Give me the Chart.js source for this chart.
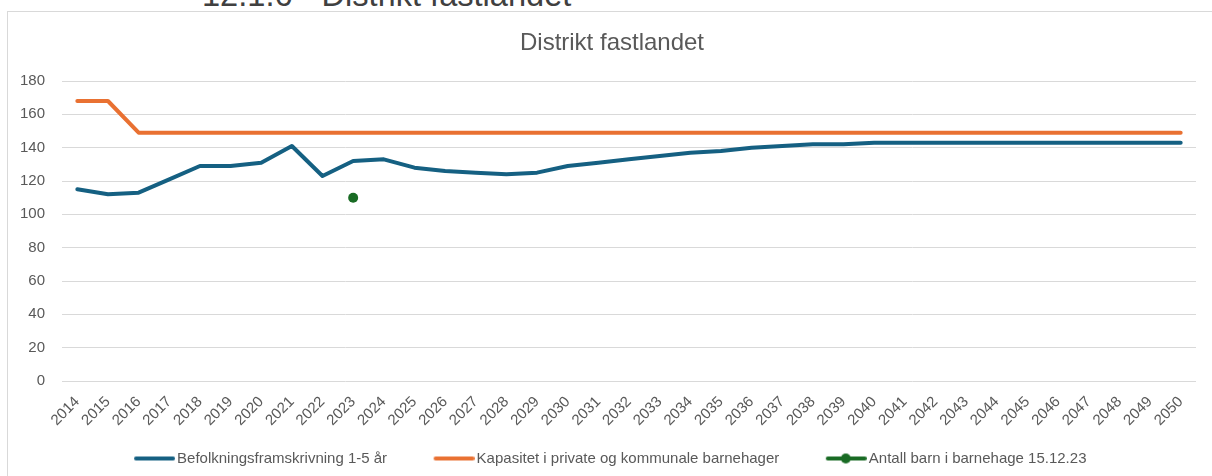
<!DOCTYPE html>
<html>
<head>
<meta charset="utf-8">
<script src="https://cdn.jsdelivr.net/npm/chart.js@4/dist/chart.umd.min.js"></script>
<style>
  html, body { margin: 0; padding: 0; background: #ffffff; overflow: hidden; }
  #wrap { position: relative; width: 1212px; height: 476px; overflow: hidden; }
  #heading { position: absolute; left: 202px; top: -21px; font-family: 'Liberation Sans', Arial, sans-serif;
             font-size: 32.6px; line-height: 32px; color: #404040; white-space: nowrap; }
  #frame { position: absolute; left: 7px; top: 11px; width: 1220px; height: 480px;
           border-left: 1px solid #d9d9d9; border-top: 1px solid #d9d9d9; box-sizing: border-box; }
  canvas { position: absolute; left: 0; top: 0; }
</style>
</head>
<body>
<div id="wrap">
  <div id="heading">12.1.6 - Distrikt fastlandet</div>
  <div id="frame"></div>
  <canvas id="c" width="1212" height="476"></canvas>
</div>
<script>
const chartTitle = 'Distrikt fastlandet';
const years = ['2014','2015','2016','2017','2018','2019','2020','2021','2022','2023','2024','2025','2026','2027','2028','2029','2030','2031','2032','2033','2034','2035','2036','2037','2038','2039','2040','2041','2042','2043','2044','2045','2046','2047','2048','2049','2050'];
const seriesNames = ['Befolkningsframskrivning 1-5 år', 'Kapasitet i private og kommunale barnehager', 'Antall barn i barnehage 15.12.23'];
const befolkning = [115,112,113,121,129,129,131,141,123,132,133,128,126,125,124,125,129,131,133,135,137,138,140,141,142,142,143,143,143,143,143,143,143,143,143,143,143];
const kapasitet = [168,168,149,149,149,149,149,149,149,149,149,149,149,149,149,149,149,149,149,149,149,149,149,149,149,149,149,149,149,149,149,149,149,149,149,149,149];
const antallBarn = [null,null,null,null,null,null,null,null,null,110,null,null,null,null,null,null,null,null,null,null,null,null,null,null,null,null,null,null,null,null,null,null,null,null,null,null,null];
const yTicks = [0,20,40,60,80,100,120,140,160,180];

const colBlue = '#156082', colOrange = '#E97132', colGreen = '#196B24';
const FONT = "'Liberation Sans', Arial, sans-serif";
const textCol = '#595959';

const BW = 72; // legend box width
function legendImg(color, withDot) {
  const W = BW + 11, H = 12;
  const cv = document.createElement('canvas');
  cv.width = W; cv.height = H;
  const g = cv.getContext('2d');
  g.strokeStyle = color; g.lineWidth = 4; g.lineCap = 'round';
  g.beginPath(); g.moveTo(W - 40 + 1, H / 2); g.lineTo(W - 2, H / 2); g.stroke();
  if (withDot) {
    g.fillStyle = color; g.beginPath(); g.arc(W - 21, H / 2, 5, 0, Math.PI * 2); g.fill();
  }
  return cv;
}
const legendImgs = [legendImg(colBlue, false), legendImg(colOrange, false), legendImg(colGreen, true)];

const shiftBlocks = {
  id: 'shiftBlocks',
  afterLayout(chart) {
    if (chart.titleBlock) { chart.titleBlock.left += 14; chart.titleBlock.right += 14; }
    if (chart.legend) { chart.legend.left -= 6; chart.legend.right -= 6; }
  }
};

new Chart(document.getElementById('c'), {
  type: 'line',
  data: {
    labels: years,
    datasets: [
      { label: seriesNames[0], data: befolkning, borderColor: colBlue, backgroundColor: colBlue,
        borderWidth: 4, pointRadius: 0, tension: 0, borderJoinStyle: 'round', borderCapStyle: 'round' },
      { label: seriesNames[1], data: kapasitet, borderColor: colOrange, backgroundColor: colOrange,
        borderWidth: 4, pointRadius: 0, tension: 0, borderJoinStyle: 'round', borderCapStyle: 'round' },
      { label: seriesNames[2], data: antallBarn, borderColor: colGreen, backgroundColor: colGreen,
        showLine: false, pointRadius: 5, pointBorderWidth: 0, pointHoverRadius: 5 }
    ]
  },
  plugins: [shiftBlocks],
  options: {
    responsive: false,
    animation: false,
    layout: { padding: { left: 0, right: 16, top: 0, bottom: 0 } },
    plugins: {
      tooltip: { enabled: false },
      title: { display: true, text: chartTitle, color: textCol,
               font: { family: FONT, size: 24, weight: 'normal', lineHeight: 1.2 },
               padding: { top: 28.6, bottom: 23.6 } },
      legend: {
        position: 'bottom',
        labels: {
          font: { family: FONT, size: 15 }, color: textCol, padding: 10,
          usePointStyle: true, pointStyleWidth: BW, boxHeight: 12,
          generateLabels: (chart) => chart.data.datasets.map((ds, i) => ({
            text: ds.label, pointStyle: legendImgs[i], fillStyle: ds.borderColor,
            strokeStyle: ds.borderColor, lineWidth: 0, hidden: false, datasetIndex: i, fontColor: textCol
          }))
        }
      }
    },
    scales: {
      x: {
        offset: true,
        grid: { display: false, drawTicks: false },
        border: { display: false },
        ticks: { autoSkip: false, maxRotation: 45, minRotation: 45, color: textCol,
                 font: { family: FONT, size: 15 }, padding: 12 },
        afterFit: (s) => { s.height = 60; }
      },
      y: {
        min: 0, max: 180,
        afterBuildTicks: (s) => { s.ticks = yTicks.map(v => ({ value: v })); },
        grid: { color: '#d9d9d9', lineWidth: 1, drawTicks: false },
        border: { display: false },
        ticks: { color: textCol, font: { family: FONT, size: 15 }, padding: 17 },
        afterFit: (s) => { s.width = 62; }
      }
    }
  }
});
</script>
</body>
</html>
